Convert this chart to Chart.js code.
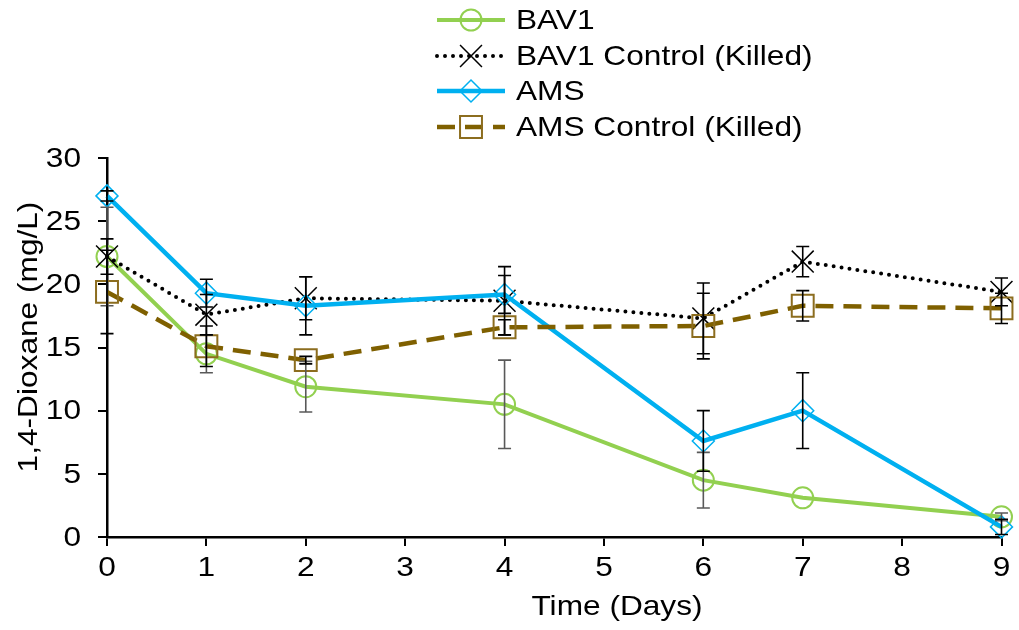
<!DOCTYPE html>
<html>
<head>
<meta charset="utf-8">
<script src="https://cdn.jsdelivr.net/npm/chart.js@4.4.1/dist/chart.umd.min.js"></script>
<style>
  html, body { margin: 0; padding: 0; background: #ffffff; }
  #wrap { width: 1019px; height: 630px; }
</style>
</head>
<body>
<div id="wrap"><canvas id="c" width="1019" height="630"></canvas></div>
<script>
// Sampling days
const days = [0, 1, 2, 4, 6, 7, 9];

// 1,4-Dioxane concentrations (mg/L) and their error bar half-widths
const bav1 = [22.2, 14.5, 11.9, 10.5, 4.5, 3.1, 1.6];
const bav1Err = [3.9, 1.5, 2.0, 3.5, 2.2, 0.0, 0.3];

const bav1Ctrl = [22.2, 17.6, 18.9, 18.7, 17.3, 21.8, 19.4];
const bav1CtrlErr = [1.4, 1.6, 1.7, 2.7, 2.8, 1.2, 1.1];

const ams = [27.0, 19.3, 18.3, 19.2, 7.6, 10.0, 0.8];
const amsErr = [0.4, 1.1, 2.3, 1.5, 2.4, 3.0, 0.6];

const amsCtrl = [19.4, 15.1, 14.0, 16.6, 16.7, 18.3, 18.1];
const amsCtrlErr = [3.3, 1.6, 0.3, 0.6, 2.6, 1.2, 1.2];

// Axis ticks and labels
const xTicks = [0, 1, 2, 3, 4, 5, 6, 7, 8, 9];
const yTicks = [0, 5, 10, 15, 20, 25, 30];
const seriesNames = ['BAV1', 'BAV1 Control (Killed)', 'AMS', 'AMS Control (Killed)'];
const xTitle = 'Time (Days)';
const yTitle = '1,4-Dioxane (mg/L)';

const FONT = '"Liberation Sans", Arial, sans-serif';
const FONT_PX = 28;
const TEXT_WIDEN = 1.13;   // the lettering runs a little wider than plain Arial
const toXY = (vals) => vals.map((v, i) => ({ x: days[i], y: v }));

const datasets = [
  {
    label: seriesNames[0], data: toXY(bav1),
    borderColor: '#92D050', borderWidth: 4,
    pointStyle: 'circle', pointRadius: 10.5, pointBorderWidth: 2,
    pointBorderColor: '#92D050', pointBackgroundColor: 'rgba(0,0,0,0)',
    errs: bav1Err, errColor: '#595959', order: 4
  },
  {
    label: seriesNames[1], data: toXY(bav1Ctrl),
    borderColor: '#000000', borderWidth: 4, borderDash: [0, 8], borderCapStyle: 'round',
    pointStyle: 'crossRot', pointRadius: 15.5, pointBorderWidth: 1.5,
    pointBorderColor: '#000000', pointBackgroundColor: 'rgba(0,0,0,0)',
    errs: bav1CtrlErr, errColor: '#000000', order: 3
  },
  {
    label: seriesNames[2], data: toXY(ams),
    borderColor: '#00B0F0', borderWidth: 4.5,
    pointStyle: 'rectRot', pointRadius: 11, pointBorderWidth: 1.5,
    pointBorderColor: '#00B0F0', pointBackgroundColor: 'rgba(0,0,0,0)',
    errs: amsErr, errColor: '#000000', order: 2
  },
  {
    label: seriesNames[3], data: toXY(amsCtrl),
    borderColor: '#7F6000', borderWidth: 4.5, borderDash: [18, 10],
    pointStyle: 'rect', pointRadius: 15.5, pointBorderWidth: 2,
    pointBorderColor: '#8C6D1F', pointBackgroundColor: 'rgba(0,0,0,0)',
    errs: amsCtrlErr, errColor: '#000000', order: 1
  }
];
datasets.forEach(d => { d.tension = 0; d.clip = false; d.pointHoverRadius = d.pointRadius; d.fill = false; });

// Text drawn slightly widened along its own direction
function wideText(ctx, text, x, y, align, angle) {
  ctx.save();
  ctx.translate(x, y);
  if (angle) ctx.rotate(angle);
  ctx.scale(TEXT_WIDEN, 1);
  ctx.font = FONT_PX + 'px ' + FONT;
  ctx.fillStyle = '#000';
  ctx.textAlign = align;
  ctx.textBaseline = 'middle';
  ctx.fillText(text, 0, 0);
  ctx.restore();
}

// Vertical error bars with caps, placed through the chart scales
const errorBars = {
  id: 'errorBars',
  afterDatasetsDraw(chart) {
    const { ctx, scales: { x, y } } = chart;
    ctx.save();
    chart.data.datasets.forEach(ds => {
      ctx.strokeStyle = ds.errColor;
      ctx.lineWidth = 1.6;
      ctx.setLineDash([]);
      ds.data.forEach((p, i) => {
        const e = ds.errs[i];
        if (!e) return;
        const px = x.getPixelForValue(p.x);
        const top = y.getPixelForValue(p.y + e);
        const bot = y.getPixelForValue(p.y - e);
        ctx.beginPath();
        ctx.moveTo(px, top); ctx.lineTo(px, bot);
        ctx.moveTo(px - 6.5, top); ctx.lineTo(px + 6.5, top);
        ctx.moveTo(px - 6.5, bot); ctx.lineTo(px + 6.5, bot);
        ctx.stroke();
      });
    });
    ctx.restore();
  }
};

// Tick labels, axis titles and the stacked legend above the plot
const textLayer = {
  id: 'textLayer',
  afterDraw(chart) {
    const { ctx, scales: { x, y } } = chart;

    x.ticks.forEach(t => wideText(ctx, String(t.value), x.getPixelForValue(t.value), 568, 'center'));
    y.ticks.forEach(t => wideText(ctx, String(t.value), 81, y.getPixelForValue(t.value) + 1, 'right'));

    wideText(ctx, xTitle, 617, 607, 'center');
    wideText(ctx, yTitle, 29, 337, 'center', -Math.PI / 2);

    const rows = [20, 56, 91, 127];
    const x0 = 437, x1 = 505, tx = 516;
    chart.data.datasets.forEach((ds, i) => {
      const yy = rows[i];
      ctx.save();
      ctx.strokeStyle = ds.borderColor;
      ctx.lineWidth = ds.borderWidth;
      ctx.lineCap = ds.borderCapStyle || 'butt';
      ctx.setLineDash(ds.borderDash || []);
      ctx.beginPath(); ctx.moveTo(x0, yy); ctx.lineTo(x1, yy); ctx.stroke();
      ctx.setLineDash([]);
      ctx.lineCap = 'butt';
      ctx.lineWidth = ds.pointBorderWidth;
      ctx.strokeStyle = ds.pointBorderColor;
      ctx.fillStyle = 'rgba(0,0,0,0)';
      Chart.helpers.drawPoint(ctx, {
        pointStyle: ds.pointStyle, radius: ds.pointRadius,
        borderWidth: ds.pointBorderWidth, rotation: 0
      }, (x0 + x1) / 2, yy);
      ctx.restore();
      wideText(ctx, ds.label, tx, yy + 1, 'left');
    });
  }
};

new Chart(document.getElementById('c'), {
  type: 'line',
  data: { datasets },
  options: {
    responsive: false,
    animation: false,
    devicePixelRatio: 1,
    layout: { padding: { top: 158, right: 12, left: 0, bottom: 0 } },
    plugins: { legend: { display: false }, tooltip: { enabled: false } },
    scales: {
      x: {
        type: 'linear', min: 0, max: 9,
        afterBuildTicks: s => { s.ticks = xTicks.map(v => ({ value: v })); },
        afterFit: s => { s.height = 93; },
        grid: { display: true, drawOnChartArea: false, drawTicks: true, tickLength: 9, color: '#000', lineWidth: 2 },
        border: { display: true, color: '#000', width: 2.5 },
        ticks: { display: false }
      },
      y: {
        type: 'linear', min: 0, max: 30,
        afterBuildTicks: s => { s.ticks = yTicks.map(v => ({ value: v })); },
        afterFit: s => { s.width = 107; },
        grid: { display: true, drawOnChartArea: false, drawTicks: true, tickLength: 9, color: '#000', lineWidth: 2 },
        border: { display: true, color: '#000', width: 2.5 },
        ticks: { display: false }
      }
    }
  },
  plugins: [errorBars, textLayer]
});
</script>
</body>
</html>
